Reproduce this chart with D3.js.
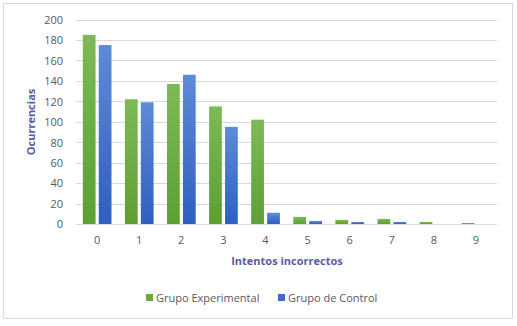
<!DOCTYPE html>
<html><head><meta charset="utf-8">
<script src="https://cdn.jsdelivr.net/npm/d3@7"></script>
<style>body{margin:0;background:#fff;} text{font-family:"Open Sans","Noto Sans",sans-serif;}</style>
</head><body>
<svg id="c" width="517" height="326"></svg>
<script>
const categories = ["0","1","2","3","4","5","6","7","8","9"];
const experimental = [185,122,137,115,102,7,4,5,2,1];
const control = [175,119,146,95,11,3,2,2,0,0];
const yTicks = [0,20,40,60,80,100,120,140,160,180,200];
const seriesNames = ["Grupo Experimental","Grupo de Control"];

const svg = d3.select("#c");
const defs = svg.append("defs");
function grad(id, top, bot){
  const g = defs.append("linearGradient").attr("id",id).attr("x1",0).attr("y1",0).attr("x2",0).attr("y2",1);
  g.append("stop").attr("offset","0%").attr("stop-color",top);
  g.append("stop").attr("offset","100%").attr("stop-color",bot);
}
grad("gGreen","#7dba57","#5e9e32");
grad("gBlue","#5d8bd6","#2f5fc0");

svg.append("rect").attr("x",3.5).attr("y",3.5).attr("width",509).attr("height",315)
  .attr("fill","#fff").attr("stroke","#d9d9d9").attr("stroke-width",1);

const x = d3.scaleBand().domain(categories).range([76,497]).paddingInner(0).paddingOuter(0);
const y = d3.scaleLinear().domain([0,200]).range([224,19.5]);
const inner = d3.scaleBand().domain([0,1]).range([6.8, x.bandwidth()-6.6]).paddingInner(0.2);

// gridlines
svg.append("g").selectAll("line").data(yTicks).join("line")
  .attr("x1",76).attr("x2",497).attr("y1",d=>Math.round(y(d))+0.5).attr("y2",d=>Math.round(y(d))+0.5)
  .attr("stroke","#d9d9d9").attr("stroke-width",1);

// y axis labels
const yAxis = d3.axisLeft(y).tickValues(yTicks).tickSize(0).tickPadding(0);
const ya = svg.append("g").attr("transform","translate(63,0)").call(yAxis);
ya.select(".domain").remove();
ya.selectAll("text").attr("fill","#595959").style("font-size","11px").attr("dy","0.35em");

// x axis labels
const xAxis = d3.axisBottom(x).tickSize(0).tickPadding(0);
const xa = svg.append("g").attr("transform","translate(0,236)").call(xAxis);
xa.select(".domain").remove();
xa.selectAll("text").attr("fill","#595959").style("font-size","11px").attr("dy","0.71em");

// bars
const data = categories.map((c,i)=>({c, v:[experimental[i], control[i]]}));
const fills = ["url(#gGreen)","url(#gBlue)"];
const groups = svg.append("g").selectAll("g").data(data).join("g")
  .attr("transform",d=>`translate(${x(d.c)},0)`);
groups.selectAll("rect").data(d=>d.v.map((v,k)=>({v,k}))).join("rect")
  .attr("x",d=>inner(d.k)).attr("width",inner.bandwidth())
  .attr("y",d=>y(d.v)).attr("height",d=>y(0)-y(d.v))
  .attr("fill",d=>fills[d.k]);

// axis titles
svg.append("text").attr("x",287).attr("y",265).attr("text-anchor","middle")
  .attr("fill","#5b5ba3").style("font-size","11px").style("font-weight","bold").text("Intentos incorrectos");
svg.append("text").attr("transform","translate(35,122) rotate(-90)").attr("text-anchor","middle")
  .attr("fill","#5b5ba3").style("font-size","11px").style("font-weight","bold").text("Ocurrencias");

// legend
const legX = [146, 278];
const leg = svg.append("g").selectAll("g").data(seriesNames).join("g")
  .attr("transform",(d,i)=>`translate(${legX[i]},294)`);
leg.append("rect").attr("width",7).attr("height",7).attr("fill",(d,i)=>i?"#3b6cc9":"#6aaa3e");
leg.append("text").attr("x",10).attr("y",4).attr("dy","0.35em").attr("fill","#595959")
  .style("font-size","11px").text(d=>d);
</script>
</body></html>
